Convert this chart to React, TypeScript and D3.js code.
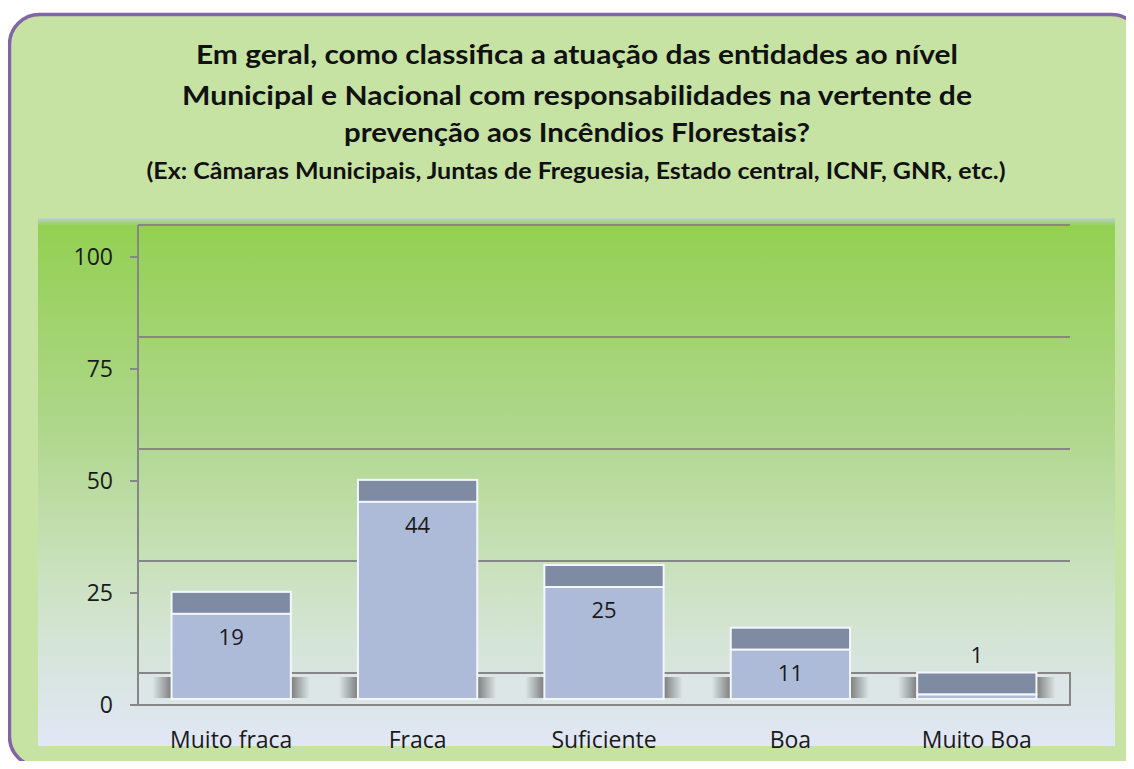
import React from 'react';
import * as d3 from 'd3';

// chart values
const categories = ['Muito fraca', 'Fraca', 'Suficiente', 'Boa', 'Muito Boa'];
const values = [19, 44, 25, 11, 1];
const yTicks = [0, 25, 50, 75, 100];
const titleLines = [
  'Em geral, como classifica a atuação das entidades ao nível',
  'Municipal e Nacional com responsabilidades na vertente de',
  'prevenção aos Incêndios Florestais?',
];
const subtitle = '(Ex: Câmaras Municipais, Juntas de Freguesia, Estado central, ICNF, GNR, etc.)';

const W = 1134;
const H = 769;
const titleFont = 'Lato, "Open Sans", sans-serif';
const font = '"Open Sans", Lato, sans-serif';

// layout of the title lines: [baseline, width]
const titleY = [64, 105, 142];
const titleW = [762, 790, 466];

function App() {
  const left = 138;
  const right = 1070;
  const span = 448; // pixels for 0..100

  const x = d3.scaleBand<string>()
    .domain(categories)
    .range([left, right])
    .paddingInner(0.36)
    .paddingOuter(0.18);

  // front axis (labels), back wall, bar front plane
  const yAxis = d3.scaleLinear().domain([0, 100]).range([705, 705 - span]);
  const yWall = d3.scaleLinear().domain([0, 100]).range([673, 673 - span]);
  const yBar = d3.scaleLinear().domain([0, 100]).range([699, 699 - span]);
  const depth = 22;

  const bw = x.bandwidth();

  return (
    <svg width={W} height={H} style={{ display: 'block', margin: '-8px' }}>
      <defs>
        <linearGradient id="plotBg" x1="0" y1="0" x2="0" y2="1">
          <stop offset="0" stopColor="#92d050" />
          <stop offset="0.4" stopColor="#afd78b" />
          <stop offset="0.72" stopColor="#cfe3c8" />
          <stop offset="1" stopColor="#e1e7f6" />
        </linearGradient>
        <linearGradient id="topBand" x1="0" y1="0" x2="0" y2="1">
          <stop offset="0" stopColor="#bcd2cf" />
          <stop offset="1" stopColor="#92d050" />
        </linearGradient>
        <linearGradient id="shadeL" x1="0" y1="0" x2="1" y2="0">
          <stop offset="0" stopColor="#777" stopOpacity="0" />
          <stop offset="1" stopColor="#777" stopOpacity="0.95" />
        </linearGradient>
        <linearGradient id="shadeR" x1="0" y1="0" x2="1" y2="0">
          <stop offset="0" stopColor="#777" stopOpacity="0.95" />
          <stop offset="1" stopColor="#777" stopOpacity="0" />
        </linearGradient>
      </defs>

      {/* outer frame */}
      <rect x={9.5} y={14.5} width={1132} height={752} rx={30} ry={30}
        fill="#c6e3a4" stroke="#8364a4" strokeWidth={3.5} />

      {/* title */}
      <g fontFamily={titleFont} fontWeight="bold" fill="#111" textAnchor="middle">
        {titleLines.map((t, i) => (
          <text key={i} x={577} y={titleY[i]} fontSize={27}
            textLength={titleW[i]} lengthAdjust="spacingAndGlyphs">{t}</text>
        ))}
        <text x={576} y={179} fontSize={22} textLength={859}
          lengthAdjust="spacingAndGlyphs">{subtitle}</text>
      </g>

      {/* plot area */}
      <rect x={38} y={218} width={1077} height={528} fill="url(#plotBg)" />
      <rect x={38} y={218} width={1077} height={8} fill="url(#topBand)" />

      {/* back wall gridlines */}
      {yTicks.filter((d) => d > 0).map((d) => (
        <line key={d} x1={left} x2={right} y1={yWall(d)} y2={yWall(d)}
          stroke="#868686" strokeWidth={2} />
      ))}

      {/* floor */}
      <rect x={left} y={yWall(0)} width={right - left} height={yAxis(0) - yWall(0)}
        fill="#dce6e6" stroke="#868686" strokeWidth={2} />

      {/* floor shading beside bars */}
      {categories.map((c) => (
        <g key={c}>
          <rect x={(x(c) ?? 0) - 19} y={677} width={19} height={21} fill="url(#shadeL)" />
          <rect x={(x(c) ?? 0) + bw} y={677} width={19} height={21} fill="url(#shadeR)" />
        </g>
      ))}

      {/* left axis */}
      <line x1={left} x2={left} y1={yWall(100)} y2={yAxis(0)} stroke="#868686" strokeWidth={2} />
      {yTicks.map((d) => (
        <g key={d}>
          <line x1={130} x2={left} y1={yAxis(d)} y2={yAxis(d)} stroke="#868686" strokeWidth={2} />
          <text x={113} y={yAxis(d)} dy="0.36em" textAnchor="end" fontFamily={font}
            fontSize={23} fill="#1a1a1a">{d}</text>
        </g>
      ))}

      {/* bars */}
      {categories.map((c, i) => {
        const x0 = x(c) ?? 0;
        const v = values[i];
        const top = yBar(v);
        const frontH = yBar(0) - top;
        const inside = frontH > 40;
        return (
          <g key={c}>
            <rect x={x0} y={top - depth} width={bw} height={depth}
              fill="#7f8ba3" stroke="#f4f6fb" strokeWidth={2} />
            <rect x={x0} y={top} width={bw} height={frontH}
              fill="#adbbd9" stroke="#f4f6fb" strokeWidth={2} />
            <text x={x0 + bw / 2} y={inside ? top + 31 : top - depth - 10}
              textAnchor="middle" fontFamily={font} fontSize={22} fill="#1a1a1a">{v}</text>
          </g>
        );
      })}

      {/* category labels */}
      {categories.map((c) => (
        <text key={c} x={(x(c) ?? 0) + bw / 2} y={748} textAnchor="middle"
          fontFamily={font} fontSize={23} fill="#1a1a1a">{c}</text>
      ))}
    </svg>
  );
}

export default App;
